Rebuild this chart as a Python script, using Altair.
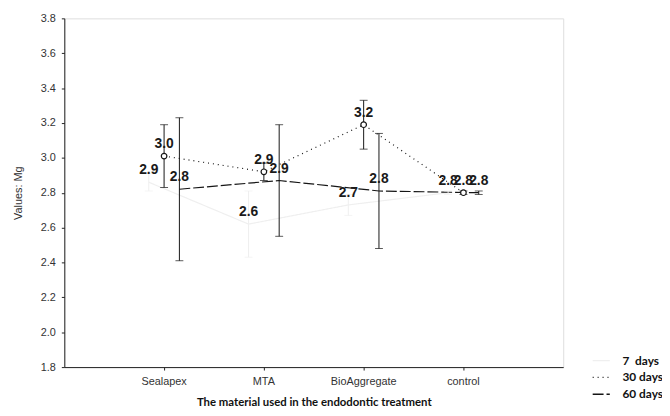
import altair as alt
import pandas as pd

categories = ["Sealapex", "MTA", "BioAggregate", "control"]
series_names = ["7 days", "30 days", "60 days"]

mean_7 = [2.86, 2.62, 2.73, 2.80]
err_7 = [0.05, 0.19, 0.06, 0.01]
mean_30 = [3.01, 2.92, 3.19, 2.80]
err_30 = [0.18, 0.05, 0.14, 0.01]
mean_60 = [2.82, 2.87, 2.81, 2.80]
err_60 = [0.41, 0.32, 0.33, 0.01]

y_ticks = [1.8, 2.0, 2.2, 2.4, 2.6, 2.8, 3.0, 3.2, 3.4, 3.6, 3.8]

rows = []
for name, means, errs in zip(series_names, [mean_7, mean_30, mean_60], [err_7, err_30, err_60]):
    for c, m, e in zip(categories, means, errs):
        rows.append({"material": c, "series": name, "mean": m, "lo": m - e, "hi": m + e})
df = pd.DataFrame(rows)

FONT = "Liberation Sans"

color_scale = alt.Scale(domain=series_names, range=["#efefef", "#151515", "#151515"])
dash_scale = alt.Scale(domain=series_names, range=[[1, 0], [1, 4], [11, 3]])

legend = alt.Legend(
    title=None, orient="none", legendX=534, legendY=337,
    symbolType="stroke", symbolSize=300, symbolStrokeWidth=1.3,
    labelFont="Lato", labelFontSize=12, labelFontWeight="bold", labelColor="#111",
    labelOffset=12, rowPadding=1,
    labelExpr="datum.label == '7 days' ? '7\u00a0\u00a0days' : datum.label",
)

x_enc = alt.X(
    "material:N", sort=categories,
    scale=alt.Scale(type="band", paddingInner=0, paddingOuter=0.5),
    axis=alt.Axis(
        title="The material used in the endodontic treatment", labelAngle=0,
        labelFont=FONT, labelFontSize=11, labelColor="#333", labelPadding=6,
        tickSize=3, tickColor="#222", domainColor="#222",
        titleFont="Lato", titleFontSize=11.5, titleFontWeight="bold", titleColor="#111",
        titlePadding=10,
    ),
)
xo_enc = alt.XOffset(
    "series:N", sort=series_names,
    scale=alt.Scale(type="point", domain=series_names, range=[35, 66], padding=0),
)
y_scale = alt.Scale(domain=[1.8, 3.8], nice=False, zero=False)
y_axis = alt.Axis(
    title="Values: Mg", values=y_ticks, format=".1f", grid=False, labelOverlap=False,
    labelFont=FONT, labelFontSize=11, labelColor="#333", labelPadding=6,
    tickSize=3, tickColor="#222", domainColor="#222",
    titleFont=FONT, titleFontSize=11, titleFontWeight="normal", titleColor="#333",
    titlePadding=17,
)


def y_of(field):
    return alt.Y(field, scale=y_scale, axis=y_axis, title="Values: Mg")


base = alt.Chart(df)

lines = base.mark_line(strokeWidth=1.2).encode(
    x=x_enc, xOffset=xo_enc, y=y_of("mean:Q"),
    color=alt.Color("series:N", scale=color_scale, legend=legend),
    strokeDash=alt.StrokeDash("series:N", scale=dash_scale, legend=legend),
)

bars = base.mark_rule(strokeWidth=1).encode(
    x=x_enc, xOffset=xo_enc,
    y=y_of("lo:Q"), y2="hi:Q",
    color=alt.Color("series:N", scale=color_scale, legend=None),
)

caps = base.transform_fold(["lo", "hi"], as_=["end", "val"]).mark_tick(
    size=8, thickness=1
).encode(
    x=x_enc, xOffset=xo_enc,
    y=y_of("val:Q"),
    color=alt.Color("series:N", scale=color_scale, legend=None),
)

points = base.transform_filter(alt.datum.series == "30 days").mark_point(
    shape="circle", size=32, filled=True, fill="white", stroke="#151515", strokeWidth=1.2, opacity=1
).encode(x=x_enc, xOffset=xo_enc, y=y_of("mean:Q"))

labels = base.mark_text(
    dy=-12, font=FONT, fontSize=14, fontWeight="bold", color="#1a1a1a"
).encode(
    x=x_enc, xOffset=xo_enc, y=y_of("mean:Q"),
    text=alt.Text("mean:Q", format=".1f"),
)

chart = alt.layer(lines, bars, caps, points, labels).properties(
    width=505, height=353,
    autosize=alt.AutoSizeParams(type="none"),
    padding={"left": 57, "top": 8, "right": 100, "bottom": 44},
).configure_view(
    stroke="#222", strokeWidth=1
).configure(background="white")

chart.save("out.html", embed_options={"renderer": "svg", "actions": False})
